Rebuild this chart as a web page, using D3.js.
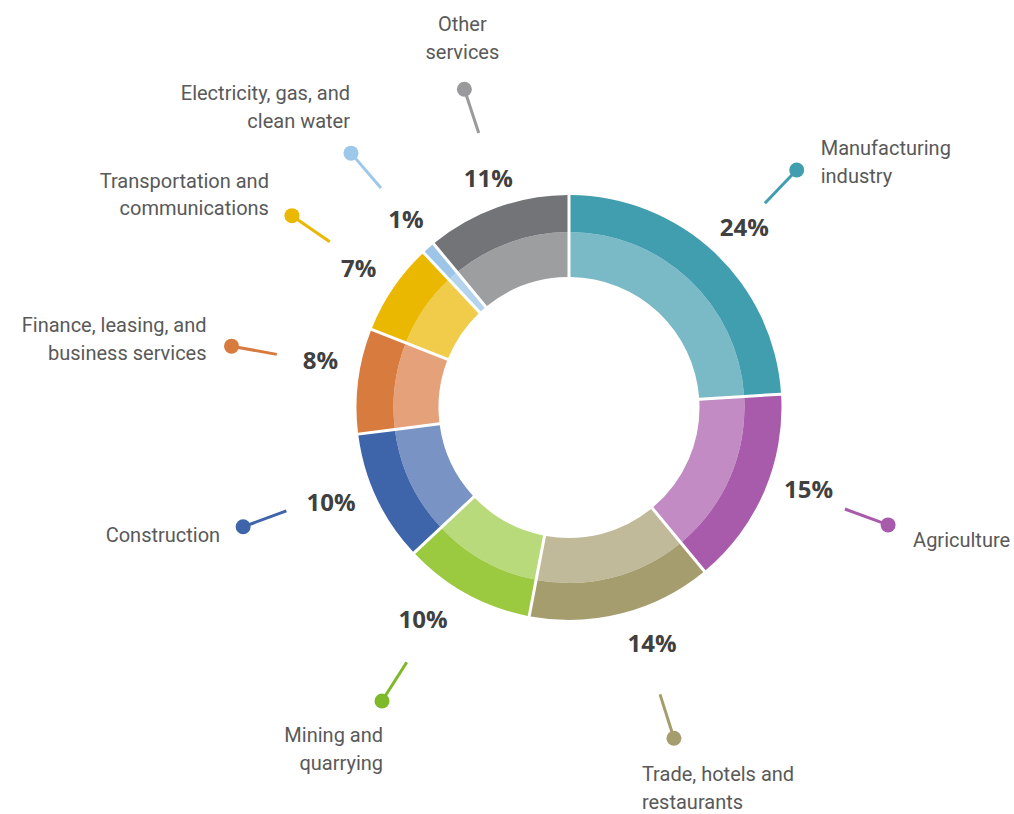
<!DOCTYPE html>
<html>
<head>
<meta charset="utf-8">
<script src="https://cdn.jsdelivr.net/npm/d3@7/dist/d3.min.js"></script>
<style>
  html, body { margin: 0; padding: 0; background: #ffffff; }
  svg { display: block; }
  .cat { font-family: Roboto, "Liberation Sans", sans-serif; font-size: 20px; fill: #595959; }
  .pct { font-family: "Open Sans", "DejaVu Sans", sans-serif; font-weight: 700; font-size: 24px; fill: #404040; }
</style>
</head>
<body>
<svg id="chart" width="1014" height="814"></svg>
<script>
// GDP share by sector, clockwise from 12 o'clock
const sectors = [
  "Manufacturing industry", "Agriculture", "Trade, hotels and restaurants",
  "Mining and quarrying", "Construction", "Finance, leasing, and business services",
  "Transportation and communications", "Electricity, gas, and clean water", "Other services"
];
const labelLines = [
  ["Manufacturing", "industry"], ["Agriculture"], ["Trade, hotels and", "restaurants"],
  ["Mining and", "quarrying"], ["Construction"], ["Finance, leasing, and", "business services"],
  ["Transportation and", "communications"], ["Electricity, gas, and", "clean water"], ["Other", "services"]
];
const shares = [24, 15, 14, 10, 10, 8, 7, 1, 11];

// outer band (strong) and inner band (light) colours per sector, plus callout colours
const outerColors = ["#419EAF", "#A85BAA", "#A69D6E", "#9BC93F", "#3E64AA", "#D87B3F", "#EAB800", "#9DC5E8", "#737477"];
const innerColors = ["#7AB9C6", "#C38BC4", "#C0BA9A", "#B8DA7A", "#7993C4", "#E4A17A", "#F0CC4A", "#B4D4EE", "#9D9EA0"];
const calloutColors = ["#419EAF", "#A85BAA", "#A69D6E", "#7DB928", "#3E64AA", "#D87B3F", "#EAB800", "#9DC8EA", "#9A9A9C"];

// callout placement: angular tweaks (deg) for the leader and the percentage,
// percentage radius, dot radius, text anchor and text offset from the dot
const callouts = [
  { turn: 0.6,  pTurn: 1.1,  pr: 251, reach: 329, anchor: "start",  dx: 24,  dy: -15 },
  { turn: -3.2, pTurn: -4.6, pr: 253, reach: 340, anchor: "start",  dx: 25,  dy: 22 },
  { turn: -3.2, pTurn: -5.0, pr: 250, reach: 347, anchor: "start",  dx: -32, dy: 43 },
  { turn: 3.7,  pTurn: 5.8,  pr: 257, reach: 348, anchor: "end",    dx: 1,   dy: 41 },
  { turn: 5.1,  pTurn: 3.5,  pr: 256, reach: 347, anchor: "end",    dx: -23, dy: 15 },
  { turn: 3.1,  pTurn: 3.6,  pr: 253, reach: 343, anchor: "end",    dx: -25, dy: -14 },
  { turn: 0.5,  pTurn: -0.8, pr: 252, reach: 337, anchor: "end",    dx: -23, dy: -28 },
  { turn: 0.8,  pTurn: 0.5,  pr: 249, reach: 335, anchor: "end",    dx: -1,  dy: -53 },
  { turn: 1.6,  pTurn: 0.4,  pr: 243, reach: 335, anchor: "middle", dx: -2,  dy: -58 }
];

const cx = 569, cy = 407.5;
const rHole = 130.5, rMid = 175.5, rOuter = 212.5;
const gap = 3;          // white separation between sectors, px
const lineHeight = 27.5;
const deg = Math.PI / 180;

const svg = d3.select("#chart");
const g = svg.append("g").attr("transform", `translate(${cx},${cy})`);

const pie = d3.pie().sort(null).value(d => d);
const arcs = pie(shares);

const padR = 200;
const innerArc = d3.arc().innerRadius(rHole).outerRadius(rMid).padRadius(padR).padAngle(gap / padR);
const outerArc = d3.arc().innerRadius(rMid).outerRadius(rOuter).padRadius(padR).padAngle(gap / padR);

g.selectAll("path.inner").data(arcs).join("path")
  .attr("class", "inner")
  .attr("d", innerArc)
  .attr("fill", (d, i) => innerColors[i]);

g.selectAll("path.outer").data(arcs).join("path")
  .attr("class", "outer")
  .attr("d", outerArc)
  .attr("fill", (d, i) => outerColors[i]);

const polar = (a, r) => [r * Math.sin(a), -r * Math.cos(a)];

arcs.forEach((d, i) => {
  const c = callouts[i];
  const mid = (d.startAngle + d.endAngle) / 2;
  const a = mid + c.turn * deg;

  // percentage label
  const [px, py] = polar(mid + c.pTurn * deg, c.pr);
  g.append("text").attr("class", "pct")
    .attr("x", px).attr("y", py + 8.5)
    .attr("text-anchor", "middle")
    .text(d3.format("d")(shares[i]) + "%");

  // leader line with end dot
  const [x0, y0] = polar(a, c.reach - 46);
  const [x1, y1] = polar(a, c.reach);
  g.append("line")
    .attr("x1", x0).attr("y1", y0).attr("x2", x1).attr("y2", y1)
    .attr("stroke", calloutColors[i]).attr("stroke-width", 3);
  g.append("circle")
    .attr("cx", x1).attr("cy", y1).attr("r", 7.5)
    .attr("fill", calloutColors[i]);

  // sector name
  const t = g.append("text").attr("class", "cat")
    .attr("text-anchor", c.anchor);
  labelLines[i].forEach((line, k) => {
    t.append("tspan")
      .attr("x", x1 + c.dx)
      .attr("y", y1 + c.dy + k * lineHeight)
      .text(line);
  });
});
</script>
</body>
</html>
